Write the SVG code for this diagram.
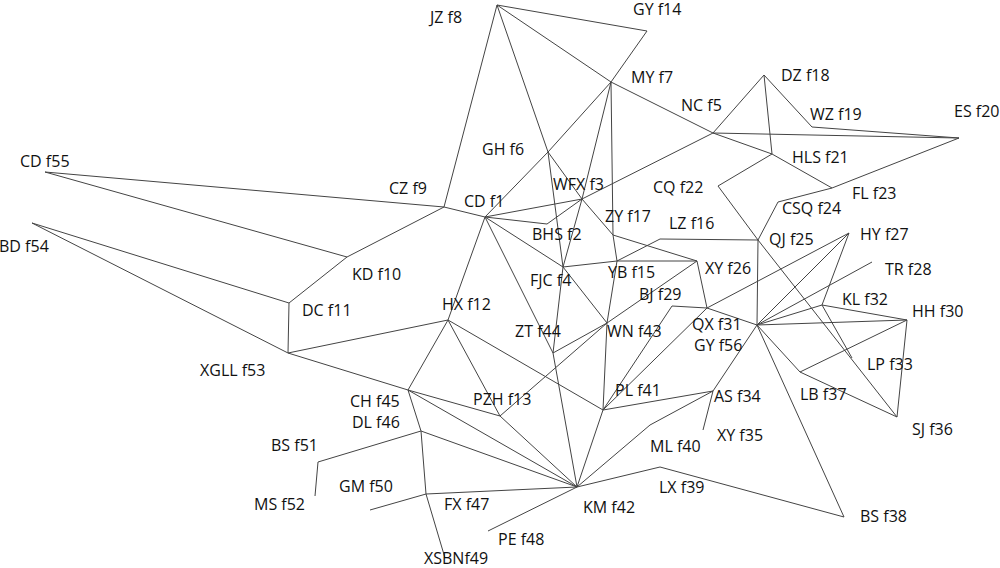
<svg xmlns="http://www.w3.org/2000/svg" width="1000" height="568" viewBox="0 0 1000 568">
<style>
.e line{stroke:#444;stroke-width:1;fill:none}
text{font-family:"Open Sans","Noto Sans",sans-serif;font-size:16px;fill:#111}
</style>
<rect width="1000" height="568" fill="#fff"/>
<g class="e" id="connectors">
<line x1="497" y1="5" x2="647" y2="31"/>
<line x1="497" y1="5" x2="611" y2="82"/>
<line x1="497" y1="5" x2="548" y2="152"/>
<line x1="497" y1="5" x2="444" y2="207"/>
<line x1="647" y1="31" x2="611" y2="82"/>
<line x1="611" y1="82" x2="713" y2="133"/>
<line x1="611" y1="82" x2="548" y2="152"/>
<line x1="548" y1="152" x2="485" y2="217"/>
<line x1="611" y1="82" x2="582" y2="199"/>
<line x1="611" y1="82" x2="613" y2="235"/>
<line x1="713" y1="133" x2="772" y2="154"/>
<line x1="713" y1="133" x2="764" y2="75"/>
<line x1="713" y1="133" x2="959" y2="138"/>
<line x1="713" y1="133" x2="582" y2="199"/>
<line x1="764" y1="75" x2="812" y2="127"/>
<line x1="764" y1="75" x2="772" y2="154"/>
<line x1="812" y1="127" x2="959" y2="138"/>
<line x1="772" y1="154" x2="832" y2="188"/>
<line x1="832" y1="188" x2="959" y2="138"/>
<line x1="772" y1="154" x2="718" y2="186"/>
<line x1="718" y1="186" x2="758" y2="240"/>
<line x1="778" y1="202" x2="832" y2="188"/>
<line x1="778" y1="202" x2="758" y2="240"/>
<line x1="758" y1="240" x2="660" y2="239"/>
<line x1="660" y1="239" x2="617" y2="261"/>
<line x1="758" y1="240" x2="757" y2="325"/>
<line x1="758" y1="240" x2="897" y2="417"/>
<line x1="548" y1="152" x2="582" y2="199"/>
<line x1="548" y1="152" x2="563" y2="267"/>
<line x1="45" y1="172" x2="444" y2="207"/>
<line x1="45" y1="172" x2="347" y2="257"/>
<line x1="444" y1="207" x2="347" y2="257"/>
<line x1="444" y1="207" x2="485" y2="217"/>
<line x1="347" y1="257" x2="289" y2="303"/>
<line x1="32" y1="223" x2="289" y2="303"/>
<line x1="32" y1="223" x2="288" y2="353"/>
<line x1="289" y1="303" x2="288" y2="353"/>
<line x1="288" y1="353" x2="448" y2="320"/>
<line x1="288" y1="353" x2="408" y2="390"/>
<line x1="408" y1="390" x2="500" y2="416"/>
<line x1="485" y1="217" x2="547" y2="224"/>
<line x1="547" y1="224" x2="582" y2="199"/>
<line x1="485" y1="217" x2="582" y2="199"/>
<line x1="485" y1="217" x2="563" y2="267"/>
<line x1="485" y1="217" x2="553" y2="353"/>
<line x1="485" y1="217" x2="448" y2="320"/>
<line x1="582" y1="199" x2="563" y2="267"/>
<line x1="582" y1="199" x2="613" y2="235"/>
<line x1="613" y1="235" x2="617" y2="261"/>
<line x1="613" y1="235" x2="697" y2="261"/>
<line x1="563" y1="267" x2="617" y2="261"/>
<line x1="617" y1="261" x2="697" y2="261"/>
<line x1="563" y1="267" x2="607" y2="323"/>
<line x1="563" y1="267" x2="553" y2="353"/>
<line x1="617" y1="261" x2="607" y2="323"/>
<line x1="607" y1="323" x2="603" y2="410"/>
<line x1="553" y1="353" x2="607" y2="323"/>
<line x1="607" y1="323" x2="697" y2="261"/>
<line x1="697" y1="261" x2="707" y2="308"/>
<line x1="707" y1="308" x2="672" y2="306"/>
<line x1="672" y1="306" x2="603" y2="410"/>
<line x1="707" y1="308" x2="603" y2="410"/>
<line x1="707" y1="308" x2="849" y2="233"/>
<line x1="707" y1="308" x2="757" y2="325"/>
<line x1="500" y1="416" x2="607" y2="323"/>
<line x1="448" y1="320" x2="408" y2="390"/>
<line x1="448" y1="320" x2="500" y2="416"/>
<line x1="448" y1="320" x2="603" y2="410"/>
<line x1="408" y1="390" x2="577" y2="487"/>
<line x1="408" y1="390" x2="421" y2="431"/>
<line x1="421" y1="431" x2="577" y2="487"/>
<line x1="421" y1="431" x2="318" y2="462"/>
<line x1="318" y1="462" x2="315" y2="496"/>
<line x1="421" y1="431" x2="426" y2="494"/>
<line x1="426" y1="494" x2="370" y2="510"/>
<line x1="426" y1="494" x2="445" y2="558"/>
<line x1="426" y1="494" x2="577" y2="487"/>
<line x1="577" y1="487" x2="488" y2="531"/>
<line x1="500" y1="416" x2="577" y2="487"/>
<line x1="553" y1="353" x2="577" y2="487"/>
<line x1="603" y1="410" x2="577" y2="487"/>
<line x1="577" y1="487" x2="650" y2="425"/>
<line x1="650" y1="425" x2="713" y2="391"/>
<line x1="577" y1="487" x2="660" y2="467"/>
<line x1="660" y1="467" x2="844" y2="517"/>
<line x1="603" y1="410" x2="713" y2="391"/>
<line x1="713" y1="391" x2="757" y2="325"/>
<line x1="713" y1="391" x2="703" y2="430"/>
<line x1="757" y1="325" x2="844" y2="517"/>
<line x1="757" y1="325" x2="849" y2="233"/>
<line x1="757" y1="325" x2="872" y2="262"/>
<line x1="757" y1="325" x2="822" y2="305"/>
<line x1="757" y1="325" x2="907" y2="320"/>
<line x1="757" y1="325" x2="800" y2="372"/>
<line x1="849" y1="233" x2="822" y2="305"/>
<line x1="822" y1="305" x2="907" y2="320"/>
<line x1="822" y1="305" x2="852" y2="358"/>
<line x1="907" y1="320" x2="897" y2="417"/>
<line x1="800" y1="372" x2="907" y2="320"/>
<line x1="800" y1="372" x2="897" y2="417"/>
</g>
<g id="n1"><text x="464" y="207">CD f1</text></g>
<g id="n2"><text x="532" y="240">BHS f2</text></g>
<g id="n3"><text x="553" y="190">WFX f3</text></g>
<g id="n4"><text x="530" y="286">FJC f4</text></g>
<g id="n5"><text x="681" y="111">NC f5</text></g>
<g id="n6"><text x="482" y="155">GH f6</text></g>
<g id="n7"><text x="631" y="83">MY f7</text></g>
<g id="n8"><text x="430" y="23">JZ f8</text></g>
<g id="n9"><text x="389" y="194">CZ f9</text></g>
<g id="n10"><text x="352" y="280">KD f10</text></g>
<g id="n11"><text x="302" y="316">DC f11</text></g>
<g id="n12"><text x="442" y="310">HX f12</text></g>
<g id="n13"><text x="473" y="405">PZH f13</text></g>
<g id="n14"><text x="633" y="15">GY f14</text></g>
<g id="n15"><text x="608" y="278">YB f15</text></g>
<g id="n16"><text x="669" y="229">LZ f16</text></g>
<g id="n17"><text x="605" y="222">ZY f17</text></g>
<g id="n18"><text x="781" y="81">DZ f18</text></g>
<g id="n19"><text x="810" y="120">WZ f19</text></g>
<g id="n20"><text x="954" y="117">ES f20</text></g>
<g id="n21"><text x="792" y="163">HLS f21</text></g>
<g id="n22"><text x="653" y="193">CQ f22</text></g>
<g id="n23"><text x="852" y="199">FL f23</text></g>
<g id="n24"><text x="782" y="214">CSQ f24</text></g>
<g id="n25"><text x="769" y="245">QJ f25</text></g>
<g id="n26"><text x="705" y="274">XY f26</text></g>
<g id="n27"><text x="860" y="240">HY f27</text></g>
<g id="n28"><text x="885" y="275">TR f28</text></g>
<g id="n29"><text x="639" y="300">BJ f29</text></g>
<g id="n30"><text x="912" y="317">HH f30</text></g>
<g id="n31"><text x="692" y="330">QX f31</text></g>
<g id="n32"><text x="842" y="305">KL f32</text></g>
<g id="n33"><text x="867" y="370">LP f33</text></g>
<g id="n34"><text x="714" y="402">AS f34</text></g>
<g id="n35"><text x="717" y="441">XY f35</text></g>
<g id="n36"><text x="912" y="435">SJ f36</text></g>
<g id="n37"><text x="800" y="400">LB f37</text></g>
<g id="n38"><text x="860" y="522">BS f38</text></g>
<g id="n39"><text x="659" y="493">LX f39</text></g>
<g id="n40"><text x="650" y="452">ML f40</text></g>
<g id="n41"><text x="615" y="396">PL f41</text></g>
<g id="n42"><text x="583" y="513">KM f42</text></g>
<g id="n43"><text x="607" y="337">WN f43</text></g>
<g id="n44"><text x="515" y="337">ZT f44</text></g>
<g id="n45"><text x="350" y="407">CH f45</text></g>
<g id="n46"><text x="352" y="428">DL f46</text></g>
<g id="n47"><text x="444" y="510">FX f47</text></g>
<g id="n48"><text x="498" y="545">PE f48</text></g>
<g id="n49"><text x="424" y="564">XSBNf49</text></g>
<g id="n50"><text x="339" y="492">GM f50</text></g>
<g id="n51"><text x="271" y="451">BS f51</text></g>
<g id="n52"><text x="254" y="510">MS f52</text></g>
<g id="n53"><text x="200" y="376">XGLL f53</text></g>
<g id="n54"><text x="-1" y="252">BD f54</text></g>
<g id="n55"><text x="20" y="167">CD f55</text></g>
<g id="n56"><text x="694" y="351">GY f56</text></g>
</svg>
